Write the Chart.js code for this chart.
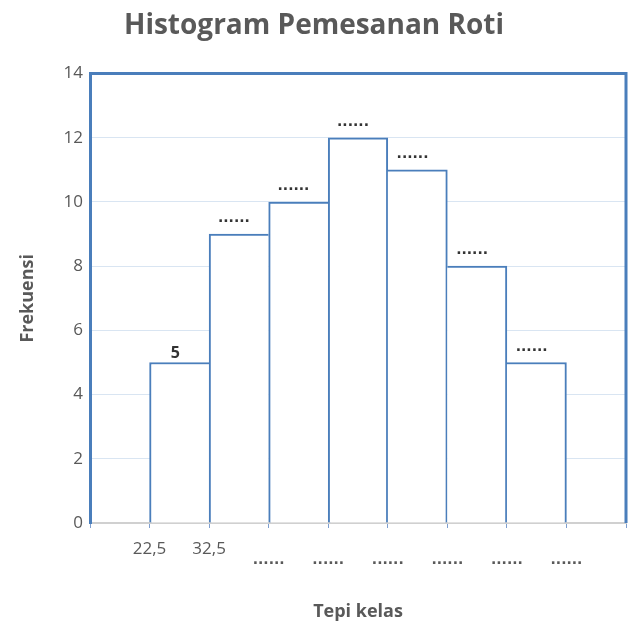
<!DOCTYPE html>
<html>
<head>
<meta charset="utf-8">
<script src="https://cdn.jsdelivr.net/npm/chart.js@4.4.1/dist/chart.umd.min.js"></script>
<style>
  html, body { margin: 0; padding: 0; background: #fff; }
  #wrap { width: 637px; height: 623px; }
</style>
</head>
<body>
<div id="wrap"><canvas id="histChart" width="637" height="623"></canvas></div>
<script>
// bar positions (centre of each class on the 0..9 axis) and frequencies
const classCenters = [1.5, 2.5, 3.5, 4.5, 5.5, 6.5, 7.5];
const frequencies = [5, 9, 10, 12, 11, 8, 5];
const barLabels = ['5', '......', '......', '......', '......', '......', '......'];
// class boundaries shown under the axis (tick value -> label)
const edgeValues = [1, 2, 3, 4, 5, 6, 7, 8];
const edgeLabels = ['22,5', '32,5', '......', '......', '......', '......', '......', '......'];

const blue = '#4a7ebb';
const grey = '#595959';

// Shared edges are drawn once, by the taller of the two neighbouring bars
function barBorder(context) {
    const i = context.dataIndex;
    const h = frequencies[i];
    const prev = i > 0 ? frequencies[i - 1] : -1;
    const next = i < frequencies.length - 1 ? frequencies[i + 1] : -1;
    return {
        top: 2,
        bottom: 0,
        left: prev <= h ? 2 : 0,
        right: next < h ? 2 : 0
    };
}

// Draws the little labels above each bar
const barLabelPlugin = {
    id: 'barLabels',
    afterDatasetsDraw(chart) {
        const ctx = chart.ctx;
        const meta = chart.getDatasetMeta(0);
        ctx.save();
        ctx.textAlign = 'center';
        ctx.textBaseline = 'alphabetic';
        meta.data.forEach((bar, i) => {
            const text = barLabels[i];
            ctx.fillStyle = '#333333';
            if (text === '......') {
                ctx.font = 'bold 14px "DejaVu Sans"';
                ctx.fillText(text, bar.x - 5, bar.y - 12);
            } else {
                ctx.font = 'bold 16px "Open Sans"';
                ctx.fillText(text, bar.x - 4, bar.y - 5);
            }
        });
        ctx.restore();
    }
};

// Blue frame on the top and right of the plot area
const framePlugin = {
    id: 'frame',
    afterDraw(chart) {
        const {ctx, chartArea} = chart;
        ctx.save();
        ctx.strokeStyle = blue;
        ctx.lineWidth = 3;
        ctx.beginPath();
        ctx.moveTo(chartArea.left, chartArea.top);
        ctx.lineTo(chartArea.right, chartArea.top);
        ctx.lineTo(chartArea.right, chartArea.bottom);
        ctx.stroke();
        ctx.restore();
    }
};

const ctx = document.getElementById('histChart').getContext('2d');

new Chart(ctx, {
    type: 'bar',
    data: {
        datasets: [
            {
                label: 'Frekuensi',
                data: classCenters.map((x, i) => ({x: x, y: frequencies[i]})),
                backgroundColor: '#ffffff',
                borderColor: blue,
                borderWidth: barBorder,
                barPercentage: 1,
                categoryPercentage: 1
            }
        ]
    },
    options: {
        responsive: false,
        animation: false,
        layout: {
            padding: {left: 0, right: 9, top: 0, bottom: 0}
        },
        scales: {
            x: {
                type: 'linear',
                min: 0,
                max: 9,
                offset: false,
                afterBuildTicks: scale => {
                    scale.ticks = [0].concat(edgeValues, [9]).map(v => ({value: v}));
                },
                afterFit: scale => { scale.height = 100; },
                ticks: {
                    autoSkip: false,
                    maxRotation: 0,
                    padding: 11,
                    color: grey,
                    font: context => {
                        const v = context.tick ? context.tick.value : 0;
                        return v <= 2
                            ? {family: 'Open Sans', size: 17}
                            : {family: 'DejaVu Sans', size: 14, weight: 'bold', lineHeight: 1};
                    },
                    callback: value => {
                        const i = edgeValues.indexOf(value);
                        if (i < 0) return '';
                        return i < 2 ? edgeLabels[i] : ['', edgeLabels[i]];
                    }
                },
                grid: {
                    offset: false,
                    drawOnChartArea: false,
                    drawTicks: true,
                    tickLength: 5,
                    color: '#7f9fcf'
                },
                border: {
                    color: '#d0d0d0',
                    width: 2
                },
                title: {
                    display: true,
                    text: 'Tepi kelas',
                    color: grey,
                    font: {family: 'Open Sans', size: 18, weight: 'bold'},
                    padding: {top: 5, bottom: 0}
                }
            },
            y: {
                min: 0,
                max: 14,
                afterFit: scale => { scale.width = 90; },
                ticks: {
                    stepSize: 2,
                    padding: 7,
                    color: grey,
                    font: {family: 'Open Sans', size: 17}
                },
                grid: {
                    drawTicks: false,
                    color: context => context.tick && context.tick.value === 0 ? 'rgba(0,0,0,0)' : '#d9e5f2',
                    lineWidth: 1
                },
                border: {
                    color: blue,
                    width: 3
                },
                title: {
                    display: true,
                    text: 'Frekuensi',
                    color: grey,
                    font: {family: 'Open Sans', size: 18, weight: 'bold'},
                    padding: {top: 17, bottom: 0}
                }
            }
        },
        plugins: {
            legend: {
                display: false
            },
            tooltip: {
                enabled: false
            },
            title: {
                display: true,
                text: 'Histogram Pemesanan Roti',
                color: grey,
                font: {family: 'Open Sans', size: 28, weight: 'bold'},
                padding: {top: 9, bottom: 31}
            }
        }
    },
    plugins: [barLabelPlugin, framePlugin]
});
</script>
</body>
</html>
